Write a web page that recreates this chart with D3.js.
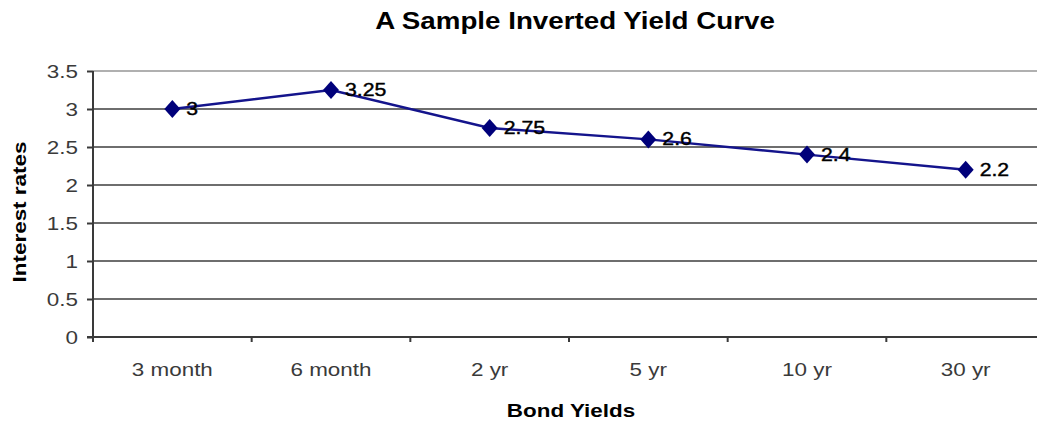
<!DOCTYPE html>
<html>
<head>
<meta charset="utf-8">
<script src="https://cdn.jsdelivr.net/npm/d3@7"></script>
<style>
  html, body { margin: 0; padding: 0; background: #fff; }
  svg { display: block; font-family: "Liberation Sans", Arial, sans-serif; }
</style>
</head>
<body>
<svg id="chart" width="1037" height="421"></svg>
<script>
// Bond maturities and their yields (%)
const maturities = ["3 month", "6 month", "2 yr", "5 yr", "10 yr", "30 yr"];
const rates = [3, 3.25, 2.75, 2.6, 2.4, 2.2];
const yTicks = [0, 0.5, 1, 1.5, 2, 2.5, 3, 3.5];

const titleText = "A Sample Inverted Yield Curve";
const xTitle = "Bond Yields";
const yTitle = "Interest rates";

const svg = d3.select("#chart");
const plot = { left: 93, right: 1045, top: 71, bottom: 337 };

const x = d3.scaleBand().domain(maturities).range([plot.left, plot.right]);
const y = d3.scaleLinear().domain([0, 3.5]).range([plot.bottom, plot.top]);

// Horizontal gridlines
svg.append("g").selectAll("line")
  .data(yTicks.filter(d => d > 0))
  .join("line")
  .attr("x1", plot.left).attr("x2", 1037)
  .attr("y1", d => y(d)).attr("y2", d => y(d))
  .attr("stroke", d => d === 3.5 ? "#b0b0b0" : "#6e6e6e")
  .attr("stroke-width", 2.2);

// Y axis
const yAxis = svg.append("g")
  .attr("transform", `translate(${plot.left},0)`)
  .call(d3.axisLeft(y).tickValues(yTicks).tickSize(6).tickPadding(9).tickFormat(d3.format("")));
yAxis.select(".domain").attr("stroke", "#3a3a3a").attr("stroke-width", 2)
  .attr("d", `M0,${plot.top}V${plot.bottom + 5}`);
yAxis.selectAll(".tick line").attr("stroke", "#3a3a3a").attr("stroke-width", 2);
yAxis.selectAll(".tick text")
  .attr("font-size", 19).attr("fill", "#3a3a3a").attr("dy", "0.36em")
  .attr("font-family", "Liberation Sans, Arial, sans-serif");

// X axis: line, boundary ticks, centered category labels
const xg = svg.append("g");
xg.append("line")
  .attr("x1", plot.left - 6).attr("x2", 1037)
  .attr("y1", plot.bottom).attr("y2", plot.bottom)
  .attr("stroke", "#3a3a3a").attr("stroke-width", 2);
xg.selectAll("line.bt")
  .data(maturities.slice(1))
  .join("line").attr("class", "bt")
  .attr("x1", d => x(d)).attr("x2", d => x(d))
  .attr("y1", plot.bottom).attr("y2", plot.bottom + 5)
  .attr("stroke", "#3a3a3a").attr("stroke-width", 2);
xg.selectAll("text")
  .data(maturities)
  .join("text")
  .attr("x", d => x(d) + x.bandwidth() / 2)
  .attr("y", 376)
  .attr("text-anchor", "middle")
  .attr("font-size", 19)
  .attr("fill", "#3a3a3a")
  .text(d => d);

// Series line
const pts = maturities.map((m, i) => ({ m, v: rates[i] }));
const cx = d => x(d.m) + x.bandwidth() / 2;
svg.append("path")
  .datum(pts)
  .attr("d", d3.line().x(cx).y(d => y(d.v)))
  .attr("fill", "none")
  .attr("stroke", "#14148c")
  .attr("stroke-width", 2.4);

// Diamond markers
const diamond = (px, py) => `M${px},${py - 9}L${px + 8},${py}L${px},${py + 9}L${px - 8},${py}Z`;
svg.append("g").selectAll("path")
  .data(pts)
  .join("path")
  .attr("d", d => diamond(cx(d), y(d.v)))
  .attr("fill", "#00007a");

// Value labels
svg.append("g").selectAll("text")
  .data(pts)
  .join("text")
  .attr("x", d => cx(d) + 14)
  .attr("y", d => y(d.v) + 6)
  .attr("font-size", 18)
  .attr("fill", "#000")
  .attr("stroke", "#000")
  .attr("stroke-width", 0.4)
  .text(d => d.v);

// Titles
svg.append("text")
  .attr("x", 575).attr("y", 29)
  .attr("text-anchor", "middle")
  .attr("font-size", 23.5).attr("font-weight", "bold")
  .text(titleText);
svg.append("text")
  .attr("x", 571).attr("y", 417)
  .attr("text-anchor", "middle")
  .attr("font-size", 19).attr("font-weight", "bold")
  .text(xTitle);
svg.append("text")
  .attr("transform", "translate(26,212) rotate(-90)")
  .attr("text-anchor", "middle")
  .attr("font-size", 19).attr("font-weight", "bold")
  .text(yTitle);

// Widen lettering along the reading direction
svg.selectAll("text").each(function () {
  const w = this.getComputedTextLength();
  this.setAttribute("textLength", (w * 1.18).toFixed(1));
  this.setAttribute("lengthAdjust", "spacingAndGlyphs");
});
</script>
</body>
</html>
